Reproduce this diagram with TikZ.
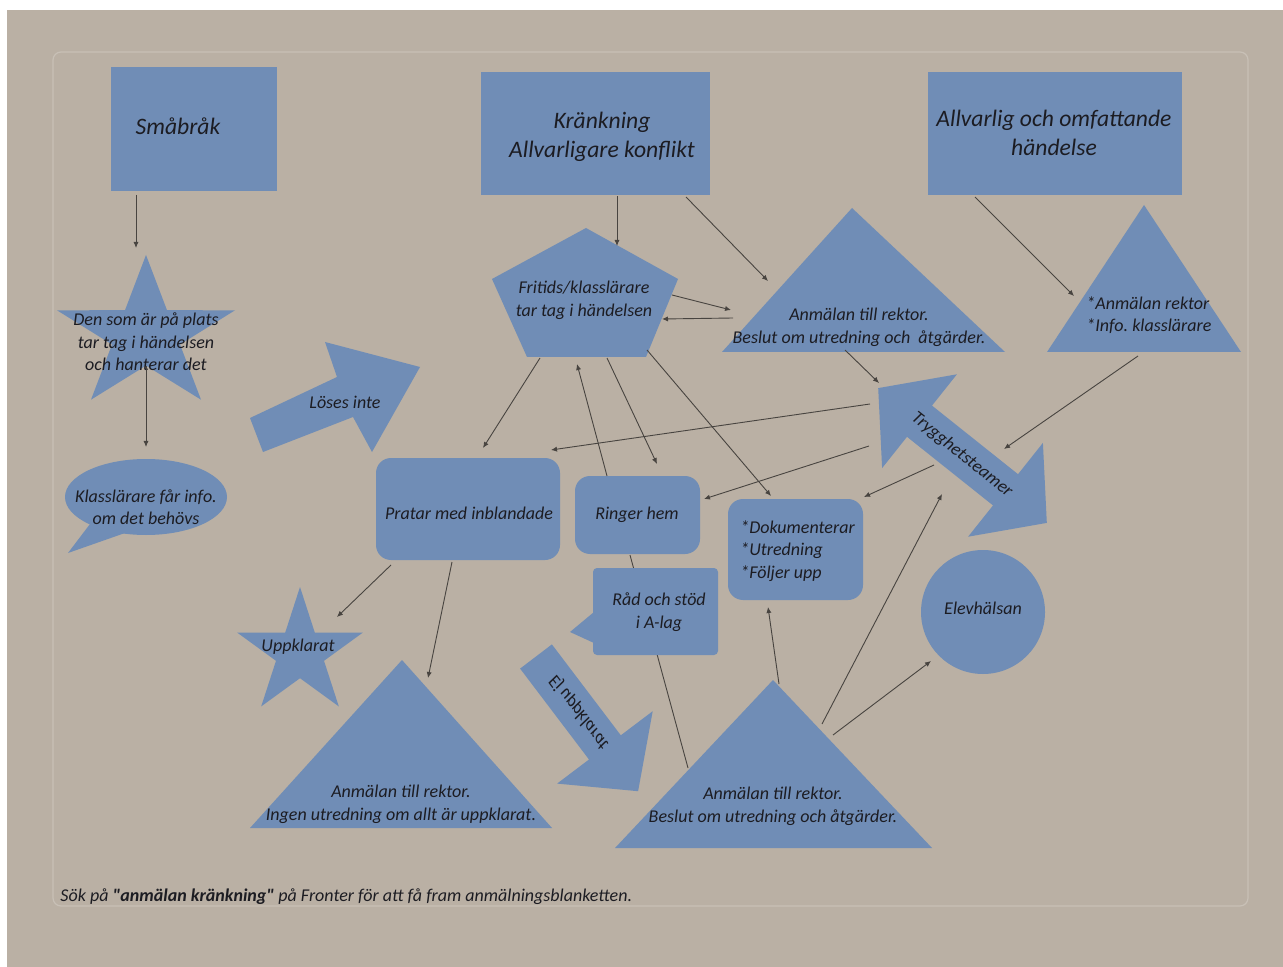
\documentclass[tikz,border=0pt]{standalone}
\usepackage{fontspec}
\setmainfont{Carlito}[Ligatures=TeXOff]
\usetikzlibrary{arrows.meta}
\definecolor{bgc}{RGB}{186,176,164}
\definecolor{shp}{RGB}{112,141,182}
\definecolor{lnc}{RGB}{72,68,64}
\definecolor{txc}{RGB}{28,28,34}
\definecolor{frc}{RGB}{200,192,182}
\frenchspacing
\begin{document}
\begin{tikzpicture}[x=0.5pt,y=-0.5pt,
  lbl/.style={font=\itshape\fontsize{9}{11.3}\selectfont, text=txc, align=center, inner sep=0pt},
  lbll/.style={lbl, align=left},
  big/.style={font=\itshape\fontsize{11.8}{14.5}\selectfont, text=txc, align=center, inner sep=0pt},
  conn/.style={draw=lnc, line width=0.45pt, -{Latex[length=3pt,width=2.6pt]}},
  plainline/.style={draw=lnc, line width=0.45pt},
  blue/.style={fill=shp}]
\useasboundingbox (0,0) rectangle (1283,967);
\fill[white] (0,0) rectangle (1283,967);
\fill[bgc] (7,10) rectangle (1283,967);
\draw[frc, line width=0.6pt, rounded corners=4pt] (53,52) rectangle (1248,906);

% line passing behind the "Råd och stöd" callout
\coordinate (pS) at (630,555);
\coordinate (pE) at (688,768);
\draw[plainline] (pS) -- (pE);

% ---------- top boxes ----------
\fill[blue] (111,67) rectangle (277,191);
\node[big] (smabrak) at (178,126) {Småbråk};
\fill[blue] (481,72) rectangle (710,195);
\node[big] (krank) at (602,137) {Kränkning\\Allvarligare konflikt};
\fill[blue] (928,72) rectangle (1182,195);
\node[big] (allv) at (1054,133) {Allvarlig och omfattande\\händelse};

% ---------- left star ----------
\fill[blue] (146,255) -- (167,310.2) -- (235,310.3) -- (180,344.5) -- (201,399.7)
  -- (146,365.6) -- (91,399.7) -- (112,344.5) -- (57,310.3) -- (125,310.2) -- cycle;
\node[lbl] (plats) at (146,342) {Den som är på plats\\tar tag i händelsen\\och hanterar det};

% ---------- speech bubble ----------
\fill[blue] (146,497) ellipse [x radius=40.5pt, y radius=19pt];
\fill[blue] (90,524) -- (125,533) -- (68,553) -- cycle;
\node[lbl] (info) at (146,507) {Klasslärare får info.\\om det behövs};

% ---------- Löses inte arrow ----------
\fill[blue] (250,418) -- (337,377) -- (325,342) -- (420,367) -- (372,452) -- (353,417) -- (263,452) -- cycle;
\node[lbl] (loses) at (345,402) {Löses inte};

% ---------- pentagon ----------
\fill[blue] (586,228) -- (678,279) -- (646,357) -- (527,357) -- (492,279) -- cycle;
\node[lbl] (fritids) at (584,300) {Fritids/klasslärare\\tar tag i händelsen};

% ---------- middle triangle ----------
\fill[blue] (852,208) -- (1005,352) -- (722,352) -- cycle;
\node[lbl] (anm1) at (859,327) {Anmälan till rektor.\\Beslut om utredning och\ \ åtgärder.};

% ---------- right triangle ----------
\fill[blue] (1144,205) -- (1241,352) -- (1047,352) -- cycle;
\node[lbll, anchor=west] (anm2) at (1086,315) {*Anmälan rektor\\*Info. klasslärare};

% ---------- Trygghetsteamer double arrow ----------
\fill[blue] (878.2,388.1) -- (956.9,374.3) -- (932.0,405.6) -- (1018.0,474.2) -- (1042.9,442.9)
  -- (1046.8,522.9) -- (968.1,536.7) -- (993.0,505.4) -- (907.0,436.8) -- (882.1,468.1) -- cycle;
\node[lbl, rotate=-38.6] (trygg) at (962,455) {Trygghetsteamer};

% ---------- rounded boxes ----------
\fill[blue, rounded corners=7.5pt] (376,458) rectangle (560,560);
\node[lbl] (pratar) at (469,513) {Pratar med inblandade};
\fill[blue, rounded corners=7.5pt] (575,476) rectangle (700,554);
\node[lbl] (ringer) at (637,515) {Ringer hem};
\fill[blue, rounded corners=2pt] (593,568) rectangle (718,655);
\fill[blue] (594,612) -- (570,632) -- (594,643) -- cycle;
\node[lbl] (rad) at (659,612) {Råd och stöd\\i A-lag};
\fill[blue, rounded corners=7.5pt] (728,499) rectangle (863,600);
\node[lbll, anchor=west] (dok) at (740,551) {*Dokumenterar\\*Utredning\\*Följer upp};
\fill[blue] (983,612) circle [radius=31pt];
\node[lbl] (elev) at (983,608) {Elevhälsan};

% ---------- Uppklarat star ----------
\fill[blue] (300,587) -- (314.8,632.6) -- (362.8,632.6) -- (324,660.8) -- (338.8,706.4)
  -- (300,678.2) -- (261.2,706.4) -- (276,660.8) -- (237.2,632.6) -- (285.2,632.6) -- cycle;
\node[lbl] (upp) at (298,647) {Uppklarat};

% ---------- bottom-left triangle ----------
\fill[blue] (402,660) -- (552,828) -- (250,828) -- cycle;
\node[lbl] (anm3) at (401,804) {Anmälan till rektor.\\Ingen utredning om allt är uppklarat.};

% ---------- Ej uppklarat arrow (mirrored label) ----------
\fill[blue] (520.1,668.6) -- (551.9,644.4) -- (620.8,735.3) -- (652.7,711.2) -- (638.1,791.2)
  -- (557.1,783.6) -- (589.0,759.5) -- cycle;
\node[lbl, rotate=-53, yscale=-1] (ej) at (579,712) {Ej uppklarat};

% ---------- bottom triangle ----------
\fill[blue] (773,680) -- (932,848) -- (615,848) -- cycle;
\node[lbl] (anm4) at (773,806) {Anmälan till rektor.\\Beslut om utredning och åtgärder.};

% ---------- footer ----------
\node[font=\itshape\fontsize{9}{11}\selectfont, text=txc, anchor=west, inner sep=0pt] (footer) at (60,897)
  {Sök på \textbf{"anmälan kränkning"} på Fronter för att få fram anmälningsblanketten.};

% ---------- connectors ----------
\coordinate (aS) at (136,195); \coordinate (aE) at (136,248);
\coordinate (bS) at (146,366); \coordinate (bE) at (146,447);
\coordinate (cS) at (617,196); \coordinate (cE) at (617,246);
\coordinate (dS) at (686,197); \coordinate (dE) at (768,281);
\coordinate (e1S) at (672,295); \coordinate (e1E) at (731,310);
\coordinate (e2S) at (733,318); \coordinate (e2E) at (662,319);
\coordinate (fS) at (975,197); \coordinate (fE) at (1074,296);
\coordinate (gS) at (845,350); \coordinate (gE) at (879,383);
\coordinate (hS) at (1138,356); \coordinate (hE) at (1004,449);
\coordinate (iS) at (870,404); \coordinate (iE) at (551,450);
\coordinate (jS) at (869,446); \coordinate (jE) at (704,499);
\coordinate (kS) at (934,465); \coordinate (kE) at (864,497);
\coordinate (lS) at (540,358); \coordinate (lE) at (483,448);
\coordinate (mS) at (607,476); \coordinate (mE) at (577,364);
\coordinate (nS) at (607,358); \coordinate (nE) at (657,464);
\coordinate (oS) at (647,350); \coordinate (oE) at (771,496);
\coordinate (qS) at (391,565); \coordinate (qE) at (337,617);
\coordinate (rS) at (452,562); \coordinate (rE) at (428,678);
\coordinate (sS) at (779,684); \coordinate (sE) at (768,607);
\coordinate (tS) at (822,724); \coordinate (tE) at (942,494);
\coordinate (uS) at (833,735); \coordinate (uE) at (931,661);
\foreach \c in {a,b,c,d,e1,e2,f,g,h,i,j,k,l,m,n,o,q,r,s,t,u}
  \draw[conn] (\c S) -- (\c E);
\end{tikzpicture}
\end{document}
